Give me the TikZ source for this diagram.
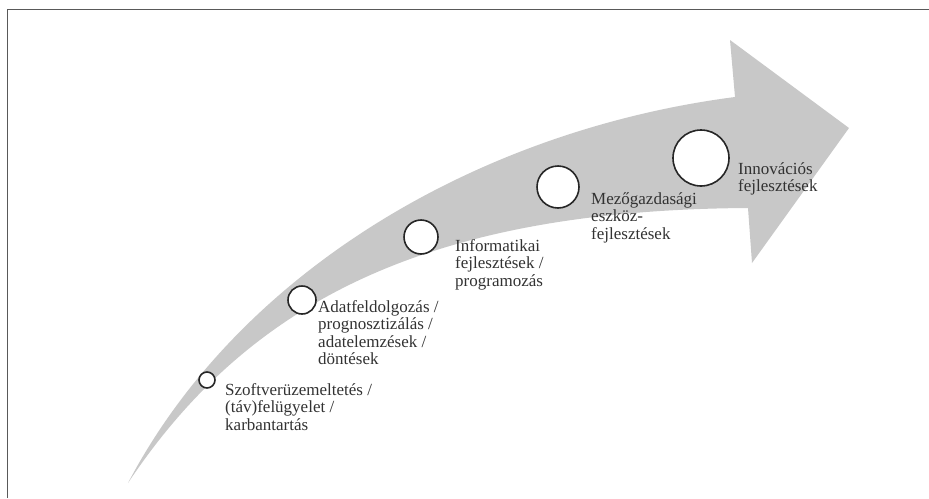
\documentclass[tikz,border=0pt]{standalone}
\usepackage{fontspec}
\setmainfont{Liberation Serif}
\definecolor{arrowgray}{RGB}{200,200,200}
\definecolor{inkgray}{RGB}{50,50,50}

\begin{document}
\begin{tikzpicture}[
    x=1pt, y=-1pt,
    stage/.style = {circle, draw=black!85, line width=1.6pt,
      fill=white, inner sep=0pt},
    stagetext/.style = {anchor=north west, inner sep=0pt, align=left,
      text=inkgray, font=\fontsize{17}{17.5}\selectfont}
  ]
  \useasboundingbox (0,0) rectangle (929,498);
  % frame, only top and left edge
  \draw [gray!70!black, line width=1.3pt] (7.5,498) -- (7.5,9.5) -- (929,9.5);

  % the curved arrow
  \fill [arrowgray] (128,483) .. controls (240,270) and (480,130) .. (735,97)
    -- (730,40) -- (849,128) -- (752,263) -- (748,208)
    .. controls (430,210) and (250,300) .. (128,483) -- cycle;

  % stages, growing along the arrow
  \node (c1) [stage, minimum size=16pt] at (207,380) {};
  \node (c2) [stage, minimum size=28pt] at (302,300) {};
  \node (c3) [stage, minimum size=34pt] at (421,237) {};
  \node (c4) [stage, minimum size=42pt] at (558,187) {};
  \node (c5) [stage, minimum size=56pt] at (701,158) {};

  \node (t1) [stagetext] at (225,383)
    {Szoftverüzemeltetés /\\ (táv)felügyelet /\\ karbantartás};
  \node (t2) [stagetext] at (318,300)
    {Adatfeldolgozás /\\ prognosztizálás /\\ adatelemzések /\\ döntések};
  \node (t3) [stagetext] at (455,239)
    {Informatikai\\ fejlesztések /\\ programozás};
  \node (t4) [stagetext] at (591,192)
    {Mezőgazdasági\\ eszköz-\\ fejlesztések};
  \node (t5) [stagetext] at (738,162)
    {Innovációs\\ fejlesztések};
\end{tikzpicture}
\end{document}
